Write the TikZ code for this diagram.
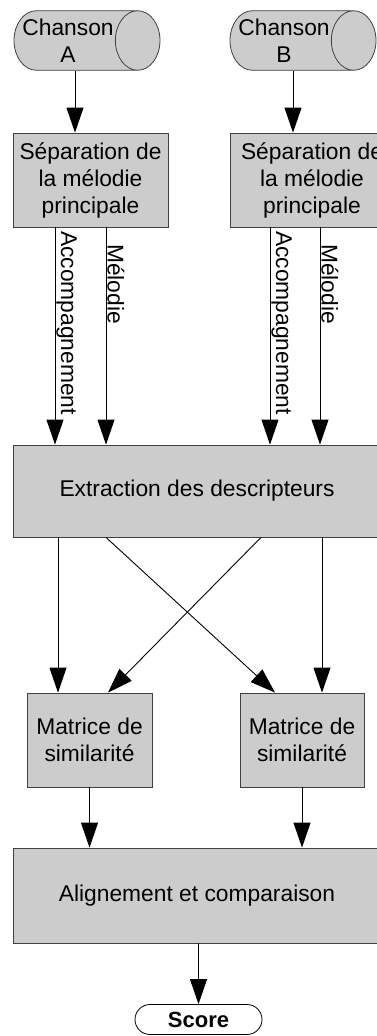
\documentclass[tikz,border=0pt]{standalone}
\usepackage{fontspec}
\setmainfont{Liberation Sans}
\usetikzlibrary{arrows.meta,shapes.geometric,shapes.misc}
\definecolor{boite}{HTML}{CCCCCC}

\begin{document}
\begin{tikzpicture}[x=1pt,y=-1pt,
    bloc/.style={draw=black!75,fill=boite,line width=0.8pt,align=center,
      font=\fontsize{22.8}{27}\selectfont,inner sep=0pt},
    chanson/.style={cylinder,draw=black!75,fill=boite,line width=0.8pt,align=center,
      font=\fontsize{22.8}{27}\selectfont,inner xsep=0pt,inner ysep=8pt,aspect=0.75,
      minimum height=146pt,anchor=shape center},
    fin/.style={rounded rectangle,draw=black,line width=0.8pt,inner sep=0pt,
      font=\fontsize{22}{26}\selectfont\bfseries,minimum width=127pt,minimum height=30pt},
    fleche/.style={-{Triangle[width=17pt,length=25pt]},line width=0.9pt},
    etiq/.style={font=\fontsize{22.8}{27}\selectfont,sloped,inner sep=1pt}]
  \path[use as bounding box,clip] (0,0) rectangle (377,1036);
  % chansons
  \node[chanson] (cA) at (87,40.5) {Chanson\\A};
  \node[chanson] (cB) at (303,40.5) {Chanson\\B};
  % separation
  \node[bloc,minimum width=155pt,minimum height=94pt] (sA) at (90.5,180)
    {Séparation de\\la mélodie\\principale};
  \node[bloc,minimum width=164pt,minimum height=94pt] (sB) at (312,180)
    {Séparation de\\la mélodie\\principale};
  \draw[fleche] ([xshift=-12pt]cA.shape center |- cA.south) -- ([xshift=-12pt]cA.shape center |- sA.north);
  \draw[fleche] ([xshift=-10pt]cB.shape center |- cB.south) -- ([xshift=-10pt]cB.shape center |- sB.north);
  % descripteurs
  \node[bloc,minimum width=368pt,minimum height=92pt] (ext) at (197,491)
    {Extraction des descripteurs};
  \draw[fleche] ([xshift=-35.5pt]sA.south) -- ([xshift=-35.5pt]sA.south |- ext.north)
    node[etiq,pos=0.01,anchor=south west] {Accompagnement};
  \draw[fleche] ([xshift=15.5pt]sA.south) -- ([xshift=15.5pt]sA.south |- ext.north)
    node[etiq,pos=0.07,anchor=south west] {Mélodie};
  \draw[fleche] ([xshift=-42pt]sB.south) -- ([xshift=-42pt]sB.south |- ext.north)
    node[etiq,pos=0.01,anchor=south west] {Accompagnement};
  \draw[fleche] ([xshift=8pt]sB.south) -- ([xshift=8pt]sB.south |- ext.north)
    node[etiq,pos=0.07,anchor=south west] {Mélodie};
  % matrices
  \node[bloc,minimum width=125pt,minimum height=94pt] (mA) at (89.5,740)
    {Matrice de\\similarité};
  \node[bloc,minimum width=124pt,minimum height=94pt] (mB) at (302,740)
    {Matrice de\\similarité};
  \draw[fleche] ([xshift=-31.5pt]mA.north |- ext.south) -- ([xshift=-31.5pt]mA.north);
  \draw[fleche] ([xshift=-91pt]ext.south) -- ([xshift=-27pt]mB.north);
  \draw[fleche] ([xshift=64pt]ext.south) -- ([xshift=18.5pt]mA.north);
  \draw[fleche] ([xshift=20pt]mB.north |- ext.south) -- ([xshift=20pt]mB.north);
  % alignement
  \node[bloc,minimum width=368pt,minimum height=95pt] (al) at (197,895.5)
    {Alignement et comparaison};
  \draw[fleche] (mA) -- (mA |- al.north);
  \draw[fleche] (mB) -- (mB |- al.north);
  \node[fin] (sc) at (198.5,1019.5) {Score};
  \draw[fleche] (al.south -| sc) -- (sc);
\end{tikzpicture}
\end{document}
